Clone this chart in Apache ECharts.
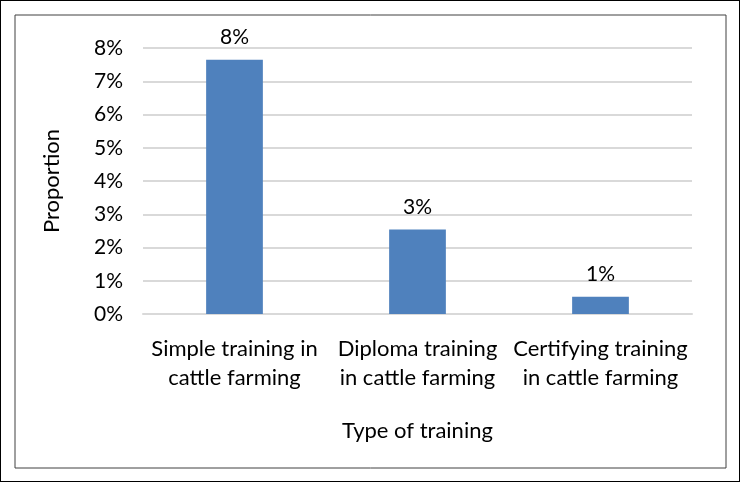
<!DOCTYPE html>
<html>
<head>
<meta charset="utf-8">
<script src="https://cdn.jsdelivr.net/npm/echarts@6/dist/echarts.min.js"></script>
<style>
  html, body { margin: 0; padding: 0; background: #fff; }
  #chart { width: 740px; height: 482px; box-sizing: border-box; border: 1px solid #000; }
</style>
</head>
<body>
<div id="chart"></div>
<script>
// training types and proportions (in %)
const categories = [
  'Simple training in\ncattle farming',
  'Diploma training\nin cattle farming',
  'Certifying training\nin cattle farming'
];
const proportions = [7.65, 2.54, 0.52];
const yTicks = { min: 0, max: 8, interval: 1 };

const font = 'Lato, "Open Sans", sans-serif';
const chart = echarts.init(document.getElementById('chart'));

chart.setOption({
  animation: false,
  textStyle: { fontFamily: font },
  graphic: [{
    type: 'rect',
    shape: { x: 14, y: 14, width: 711, height: 453 },
    style: { fill: 'none', stroke: '#404040', lineWidth: 1 }
  }],
  grid: { left: 142, right: 47, top: 47, bottom: 167 },
  xAxis: {
    type: 'category',
    data: categories,
    name: 'Type of training',
    nameLocation: 'middle',
    nameGap: 106,
    nameTextStyle: { fontSize: 22, color: '#000', fontFamily: font },
    axisLine: { show: true, lineStyle: { color: '#d9d9d9', width: 2 } },
    axisTick: { show: false },
    axisLabel: { color: '#000', fontSize: 22, lineHeight: 29, margin: 20, fontFamily: font, interval: 0 }
  },
  yAxis: {
    type: 'value',
    min: yTicks.min,
    max: yTicks.max,
    interval: yTicks.interval,
    name: 'Proportion',
    nameLocation: 'middle',
    nameRotate: 90,
    nameGap: 80,
    nameTextStyle: { fontSize: 22, color: '#000', fontFamily: font },
    axisLine: { show: false },
    axisTick: { show: false },
    axisLabel: { color: '#000', fontSize: 21, margin: 20, formatter: '{value}%', fontFamily: font },
    splitLine: { lineStyle: { color: '#d9d9d9', width: 2 } }
  },
  series: [{
    type: 'bar',
    data: proportions,
    barWidth: '31%',
    itemStyle: { color: '#4f81bd' },
    label: {
      show: true,
      position: 'top',
      distance: 12,
      color: '#000',
      fontSize: 21,
      fontFamily: font,
      formatter: p => Math.round(p.value) + '%'
    }
  }]
});
</script>
</body>
</html>
